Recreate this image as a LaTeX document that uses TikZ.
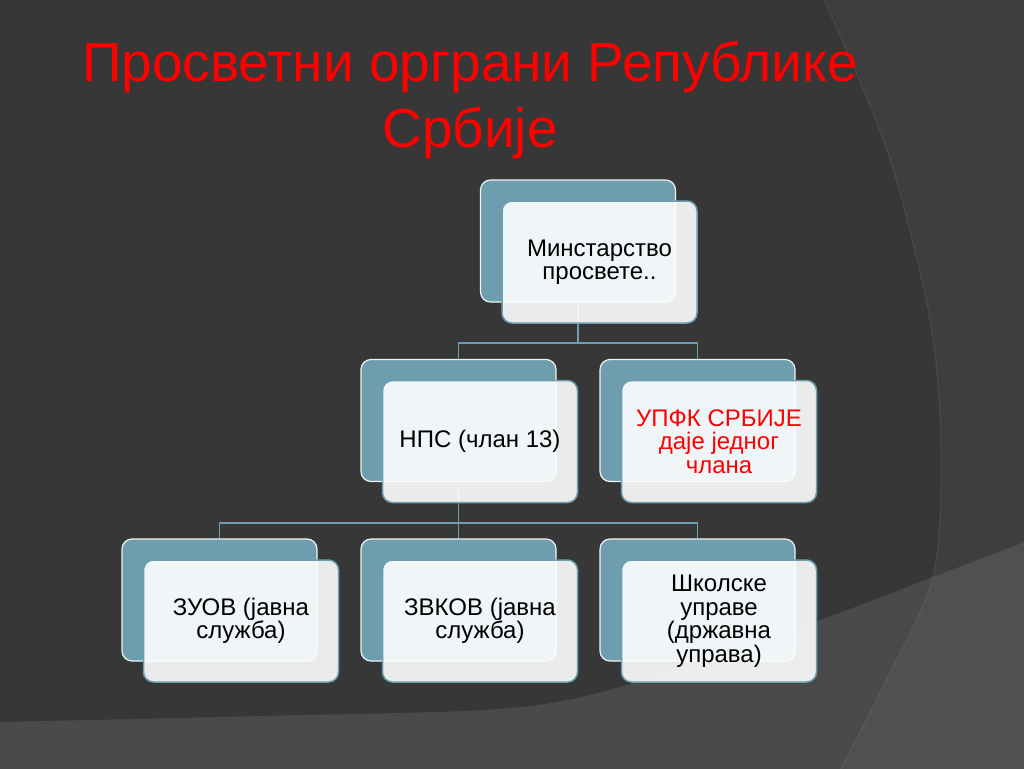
\documentclass[tikz,border=0pt]{standalone}
\usepackage{fontspec}
\setmainfont{Liberation Sans}
\usepackage{xcolor}
\usepackage{tikz}
\definecolor{slide}{HTML}{373737}
\definecolor{band}{HTML}{4A4A4A}
\definecolor{boxteal}{HTML}{6E9EAE}

\begin{document}
\begin{tikzpicture}[x=1pt,y=-1pt,
    back/.style={draw=white!88!boxteal,line width=1.2pt,fill=boxteal,rounded corners=10pt,
        minimum width=195pt,minimum height=122pt,inner sep=0pt},
    front/.style={draw=boxteal,line width=1.5pt,fill=white,fill opacity=0.9,text opacity=1,
        rounded corners=10pt,minimum width=195pt,minimum height=122pt,inner sep=0pt,
        align=center,font=\fontsize{24}{23.5}\selectfont},
    level distance=179.5pt,sibling distance=239pt,
    edge from parent/.style={draw=boxteal,line width=1.8pt},
    edge from parent path={(\tikzparentnode.south) -- ++(0,40.5) -| (\tikzchildnode.north)}]
    \useasboundingbox (0,0) rectangle (1024,768);
    \begin{scope}
        \clip (0,0) rectangle (1024,768);
        \fill[slide] (0,0) rectangle (1024,768);
        \fill[band] plot[smooth] coordinates {(0,722) (260,716) (500,709) (620,687) (817,621) (933,577) (1030,540)}
            -- (1030,770) -- (0,770) -- cycle;
        \fill[white,fill opacity=0.035] plot[smooth] coordinates {(823,-2) (887,150) (930,320) (941,450) (933,577) (883,687) (840,770)}
            -- (1030,770) -- (1030,-2) -- cycle;
        \draw[white,opacity=0.08,line width=1pt] plot[smooth] coordinates {(823,-2) (887,150) (930,320) (941,450) (933,577) (883,687) (840,770)};
    \end{scope}
    \node[text=red,align=center,font=\fontsize{55}{66}\selectfont] (title) at (470,100) {Просветни орграни Републике\\Србије};
    \node[back](min) at (578,241) {}
        child{
            node[back](nps) {}
            child{
                node[back](zuov) {}
            }
            child{
                node[back](zvkov) {}
            }
            child{
                node[back](skole) {}
            }
        }
        child{
            node[back](upfk) {}
        };
    \foreach \n/\c/\t in {min/black/{Минстарство\\просвете..},nps/black/{НПС (члан 13)},
        upfk/red/{УПФК СРБИЈЕ\\даје једног\\члана},zuov/black/{ЗУОВ (јавна\\служба)},
        zvkov/black/{ЗВКОВ (јавна\\служба)},skole/black/{Школске\\управе\\(државна\\управа)}}
        \node[front,text=\c] (\n f) at ([shift={(21.5,21)}]\n.center) {\t};
\end{tikzpicture}
\end{document}
